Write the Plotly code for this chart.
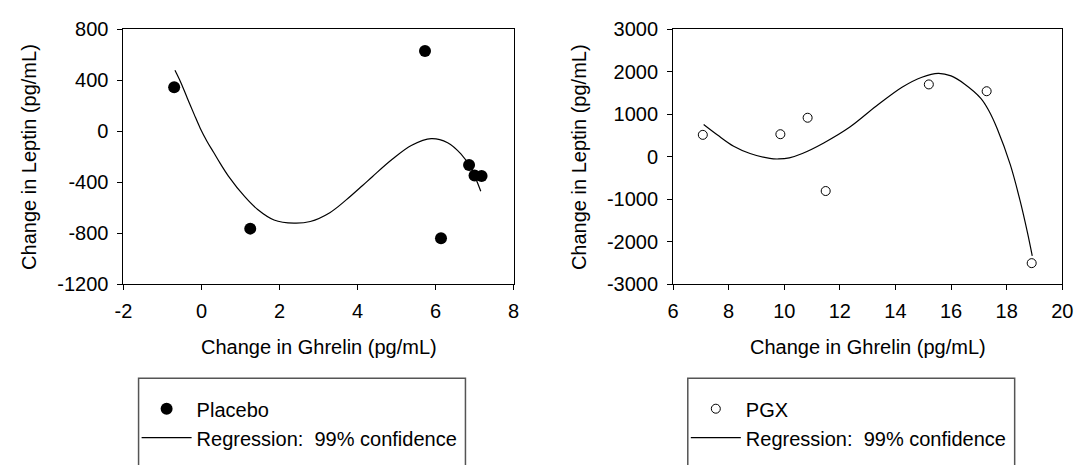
import plotly.graph_objects as go

# ---------------- data ----------------
placebo_x = [-0.70, 1.25, 5.73, 6.14, 6.86, 7.00, 7.18]
placebo_y = [345, -763, 628, -839, -265, -347, -350]

# regression curve samples
placebo_fit_x = [-0.68, -0.53, -0.36, -0.19, -0.03, 0.14, 0.31, 0.48, 0.69, 1.11, 1.44, 1.86,
                 2.37, 2.79, 3.29, 3.71, 4.13, 4.38, 4.89, 5.39, 5.89, 6.31, 6.65, 6.90, 7.16]
placebo_fit_y = [477, 382, 257, 134, 22, -78, -165, -252, -351, -513, -613, -695,
                 -720, -707, -638, -538, -425, -356, -220, -110, -58, -90, -178, -285, -470]

pgx_x = [7.07, 9.86, 10.84, 11.49, 15.20, 17.28, 18.90]
pgx_y = [515, 530, 917, -805, 1700, 1540, -2500]

pgx_fit_x = [7.10, 7.60, 8.18, 8.77, 9.48, 9.80, 10.18, 10.65, 11.42, 12.36, 13.30, 14.25,
             14.95, 15.54, 16.00, 16.48, 17.07, 17.35, 17.66, 18.13, 18.48, 18.75, 18.92]
pgx_fit_y = [759, 511, 248, 77, -40, -52, -25, 77, 324, 698, 1187, 1640,
             1870, 1960, 1900, 1712, 1374, 1094, 660, -186, -1026, -1790, -2330]

left_xticks = [-2, 0, 2, 4, 6, 8]
left_xlabels = ["-2", "0", "2", "4", "6", "8"]
left_yticks = [-1200, -800, -400, 0, 400, 800]
left_ylabels = ["-1200", "-800", "-400", "0", "400", "800"]
right_xticks = [6, 8, 10, 12, 14, 16, 18, 20]
right_xlabels = ["6", "8", "10", "12", "14", "16", "18", "20"]
right_yticks = [-3000, -2000, -1000, 0, 1000, 2000, 3000]
right_ylabels = ["-3000", "-2000", "-1000", "0", "1000", "2000", "3000"]

x_title = "Change in Ghrelin (pg/mL)"
y_title = "Change in Leptin (pg/mL)"
reg_name = "Regression:\u00a0 99% confidence"

# ---------------- figure ----------------
W, H = 1088, 465
FONT = "Liberation Sans, Arial, Helvetica, sans-serif"
FS = 20

L_X0, L_X1 = 116.6, 514
R_X0, R_X1 = 676.5, 1073
Y_TOP, Y_BOT = 19, 287
LEG_L, LEG_R = 130, 689.5

fig = go.Figure()

fig.add_trace(go.Scatter(x=placebo_x, y=placebo_y, mode="markers", name="Placebo",
                         marker=dict(color="black", size=12, symbol="circle"),
                         xaxis="x", yaxis="y", legend="legend", legendgroup="a"))
fig.add_trace(go.Scatter(x=placebo_fit_x, y=placebo_fit_y, mode="lines", name=reg_name,
                         line=dict(color="black", width=1.2, shape="spline", smoothing=1.0),
                         xaxis="x", yaxis="y", legend="legend", legendgroup="a"))
fig.add_trace(go.Scatter(x=pgx_x, y=pgx_y, mode="markers", name="PGX",
                         marker=dict(color="white", size=9, symbol="circle",
                                     line=dict(color="black", width=1)),
                         xaxis="x2", yaxis="y2", legend="legend2", legendgroup="c"))
fig.add_trace(go.Scatter(x=pgx_fit_x, y=pgx_fit_y, mode="lines", name=reg_name,
                         line=dict(color="black", width=1.2, shape="spline", smoothing=1.0),
                         xaxis="x2", yaxis="y2", legend="legend2", legendgroup="c"))

ydom = [(H - Y_BOT) / H, (H - Y_TOP) / H]
axis_common = dict(showline=True, linecolor="black", linewidth=1, mirror=True,
                   ticks="outside", ticklen=5, tickcolor="black", tickwidth=1,
                   showgrid=False, zeroline=False,
                   tickfont=dict(family=FONT, size=FS, color="black"))

fig.update_layout(
    width=W, height=H,
    margin=dict(l=0, r=0, t=0, b=0),
    paper_bgcolor="white", plot_bgcolor="white",
    font=dict(family=FONT, size=FS, color="black"),
    xaxis=dict(domain=[L_X0 / W, L_X1 / W], range=[-2, 8], tickvals=left_xticks,
               ticktext=left_xlabels, ticklabelstandoff=4, anchor="y", **axis_common),
    yaxis=dict(domain=ydom, range=[-1200, 800], tickvals=left_yticks,
               ticktext=left_ylabels, ticklabelstandoff=5, anchor="x", **axis_common),
    xaxis2=dict(domain=[R_X0 / W, R_X1 / W], range=[6, 20], tickvals=right_xticks,
                ticktext=right_xlabels, ticklabelstandoff=4, anchor="y2", **axis_common),
    yaxis2=dict(domain=ydom, range=[-3000, 3000], tickvals=right_yticks,
                ticktext=right_ylabels, ticklabelstandoff=5, anchor="x2", **axis_common),
    legend=dict(x=LEG_L / W, y=1 - 397 / H, xanchor="left", yanchor="top",
                bgcolor="rgba(0,0,0,0)", borderwidth=0, itemwidth=50,
                tracegroupgap=0, font=dict(family=FONT, size=FS, color="black")),
    legend2=dict(x=LEG_R / W, y=1 - 397 / H, xanchor="left", yanchor="top",
                 bgcolor="rgba(0,0,0,0)", borderwidth=0, itemwidth=50,
                 tracegroupgap=0, font=dict(family=FONT, size=FS, color="black")),
    showlegend=True,
    annotations=[
        dict(text=y_title, textangle=-90, xref="paper", yref="paper",
             x=20.5 / W, y=1 - (Y_TOP + Y_BOT) / 2 / H, showarrow=False,
             xanchor="center", yanchor="middle", font=dict(family=FONT, size=FS, color="black")),
        dict(text=y_title, textangle=-90, xref="paper", yref="paper",
             x=580 / W, y=1 - (Y_TOP + Y_BOT) / 2 / H, showarrow=False,
             xanchor="center", yanchor="middle", font=dict(family=FONT, size=FS, color="black")),
        dict(text=x_title, xref="paper", yref="paper",
             x=(L_X0 + L_X1) / 2 / W, y=1 - 353 / H, showarrow=False,
             xanchor="center", yanchor="middle", font=dict(family=FONT, size=FS, color="black")),
        dict(text=x_title, xref="paper", yref="paper",
             x=(R_X0 + R_X1) / 2 / W, y=1 - 353 / H, showarrow=False,
             xanchor="center", yanchor="middle", font=dict(family=FONT, size=FS, color="black")),
    ],
    shapes=[
        dict(type="rect", xref="paper", yref="paper",
             x0=(LEG_L + 2) / W, x1=(LEG_L + 335) / W, y0=-0.2, y1=1 - 385.5 / H,
             line=dict(color="#555555", width=1.5)),
        dict(type="rect", xref="paper", yref="paper",
             x0=(LEG_R + 2) / W, x1=(LEG_R + 335) / W, y0=-0.2, y1=1 - 385.5 / H,
             line=dict(color="#555555", width=1.5)),
    ],
)

fig.write_html("out.html")
